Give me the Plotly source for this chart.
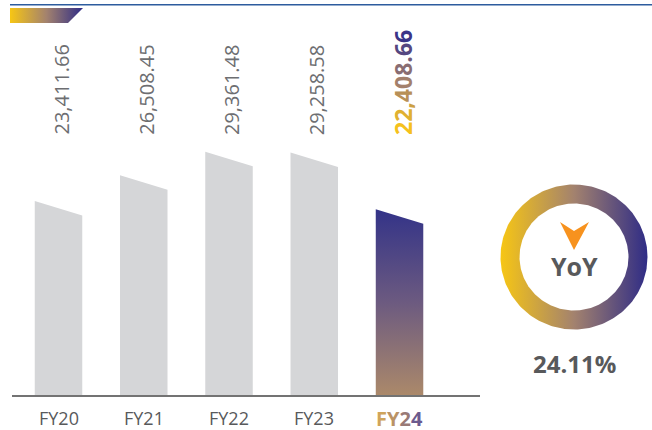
import numpy as np
import plotly.graph_objects as go

# ---------------- data ----------------
categories = ["FY20", "FY21", "FY22", "FY23", "FY24"]
values = [23411.66, 26508.45, 29361.48, 29258.58, 22408.66]
value_labels = ["23,411.66", "26,508.45", "29,361.48", "29,258.58", "22,408.66"]
yoy_title = "YoY"
yoy_value = "24.11%"

# ---------------- style / layout constants ----------------
W, H = 652, 430
FONT = "Open Sans"
BASE_PX = 395                 # baseline (pixels from top)
PX_PER_UNIT = 0.008287        # vertical scale of bars
Y_MAX = BASE_PX / PX_PER_UNIT
X_LEFT_PX, X_RIGHT_PX = 12, 480
X_RANGE = [-0.5455, 4.944]
BAR_HALF = 0.2786             # half bar width in x units
SLANT_PX = 14.5               # drop of the bar top from left to right
SLANT = SLANT_PX / PX_PER_UNIT
GREY_BAR = "#d5d6d8"
LABEL_BOTTOM_PX = 137
GREY_TXT = "#6d6e71"
DARK_TXT = "#58595b"
YELLOW = "#f7c614"
MID = "#a3826e"
NAVY = "#2f2c86"

RING_CX, RING_CY = 574, 257
RING_RX, RING_RY = 73.5, 72.5
RING_T = 19


def hex2rgb(h):
    h = h.lstrip("#")
    return [int(h[i:i + 2], 16) for i in (0, 2, 4)]


def interp(stops, t):
    n = len(stops) - 1
    k = min(int(t * n), n - 1)
    lt = t * n - k
    a, b = hex2rgb(stops[k]), hex2rgb(stops[k + 1])
    c = [round(a[i] + (b[i] - a[i]) * lt) for i in range(3)]
    return "#%02x%02x%02x" % tuple(c)


def gradient_text(s, stops):
    n = len(s)
    out = []
    for i, ch in enumerate(s):
        t = i / max(n - 1, 1)
        out.append('<span style="color:%s">%s</span>' % (interp(stops, t), ch))
    return "".join(out)


fig = go.Figure()

# ---------------- bars (slanted tops) ----------------
last = len(categories) - 1
for i, (cat, v) in enumerate(zip(categories, values)):
    xs = [i - BAR_HALF, i - BAR_HALF, i + BAR_HALF, i + BAR_HALF, i - BAR_HALF]
    ys = [0, v, v - SLANT, 0, 0]
    kw = dict(x=xs, y=ys, mode="lines", fill="toself", line=dict(width=0),
              hoverinfo="skip", showlegend=False, xaxis="x", yaxis="y")
    if i == last:
        kw["fillgradient"] = dict(type="vertical",
                                  colorscale=[[0, "#ab896a"], [0.5, "#6c5a80"], [1, "#333388"]])
        kw["fillcolor"] = "#6c5a80"
    else:
        kw["fillcolor"] = GREY_BAR
    fig.add_trace(go.Scatter(**kw))

# ---------------- decoration on pixel overlay axes ----------------
fig.add_trace(go.Scatter(x=[10, W], y=[4.7, 4.7], mode="lines",
                         line=dict(color="#2d5c9e", width=1.5),
                         hoverinfo="skip", showlegend=False, xaxis="x2", yaxis="y2"))
fig.add_trace(go.Scatter(x=[10, 83, 68, 10, 10], y=[8, 8, 23, 23, 8], mode="lines",
                         fill="toself", line=dict(width=0), fillcolor=MID,
                         fillgradient=dict(type="horizontal",
                                           colorscale=[[0, YELLOW], [0.5, MID], [1, NAVY]]),
                         hoverinfo="skip", showlegend=False, xaxis="x2", yaxis="y2"))

th = np.linspace(0, 2 * np.pi, 241)
fig.add_trace(go.Scatter(x=RING_CX + RING_RX * np.cos(th), y=RING_CY + RING_RY * np.sin(th),
                         mode="lines", fill="toself", line=dict(width=0), fillcolor=MID,
                         fillgradient=dict(type="horizontal",
                                           colorscale=[[0, YELLOW], [0.5, MID], [1, NAVY]]),
                         hoverinfo="skip", showlegend=False, xaxis="x2", yaxis="y2"))
fig.add_trace(go.Scatter(x=RING_CX + (RING_RX - RING_T) * np.cos(th),
                         y=RING_CY + (RING_RY - RING_T) * np.sin(th),
                         mode="lines", fill="toself", line=dict(width=0), fillcolor="white",
                         hoverinfo="skip", showlegend=False, xaxis="x2", yaxis="y2"))
ax_off = [(-14, -35), (0, -26), (15, -35), (0, -7), (-14, -35)]
fig.add_trace(go.Scatter(x=[RING_CX + a for a, b in ax_off], y=[RING_CY + b for a, b in ax_off],
                         mode="lines", fill="toself", line=dict(width=0), fillcolor="#f7921e",
                         hoverinfo="skip", showlegend=False, xaxis="x2", yaxis="y2"))

annotations = []
for i, lab in enumerate(value_labels):
    if i == last:
        txt = "<b>" + gradient_text(lab, ["#f5c11c", "#a3806b", "#3b3487"]) + "</b>"
        font = dict(family=FONT, size=23, color=NAVY)
        xshift = 3
    else:
        txt = lab
        font = dict(family=FONT, size=20, color=GREY_TXT)
        xshift = 2
    annotations.append(dict(x=i, y=LABEL_BOTTOM_PX, xref="x", yref="y2", text=txt,
                            textangle=-90, xanchor="center", yanchor="bottom",
                            showarrow=False, font=font, xshift=xshift))
for i, cat in enumerate(categories):
    if i == last:
        txt = "<b>" + gradient_text(cat, ["#cfa45a", "#b08a6a", "#6b5a8e"]) + "</b>"
        font = dict(family=FONT, size=20, color="#6b5a8e")
    else:
        txt = cat
        font = dict(family=FONT, size=18, color=DARK_TXT)
    annotations.append(dict(x=i, y=418, xref="x", yref="y2", text=txt,
                            xanchor="center", yanchor="middle", showarrow=False, font=font))
annotations.append(dict(x=RING_CX, y=266, xref="x2", yref="y2", text="<b>%s</b>" % yoy_title,
                        showarrow=False, xanchor="center", yanchor="middle",
                        font=dict(family=FONT, size=25, color=DARK_TXT)))
annotations.append(dict(x=RING_CX, y=363, xref="x2", yref="y2", text="<b>%s</b>" % yoy_value,
                        showarrow=False, xanchor="center", yanchor="middle",
                        font=dict(family=FONT, size=24, color=DARK_TXT)))

hidden = dict(showgrid=False, zeroline=False, showticklabels=False, ticks="", fixedrange=True)
fig.update_layout(
    width=W, height=H, margin=dict(l=0, r=0, t=0, b=0),
    paper_bgcolor="white", plot_bgcolor="rgba(0,0,0,0)",
    showlegend=False,
    xaxis=dict(domain=[X_LEFT_PX / W, X_RIGHT_PX / W], range=X_RANGE,
               showline=True, linecolor="#737373", linewidth=2, **hidden),
    yaxis=dict(domain=[(H - BASE_PX) / H, 1], range=[0, Y_MAX], **hidden),
    xaxis2=dict(domain=[0, 1], range=[0, W], anchor="y2", **hidden),
    yaxis2=dict(domain=[0, 1], range=[H, 0], anchor="x2", **hidden),
    annotations=annotations,
)

fig.write_html("out.html", config={"displayModeBar": False},
               post_script="document.body.style.margin='0';document.body.style.overflow='hidden';")
